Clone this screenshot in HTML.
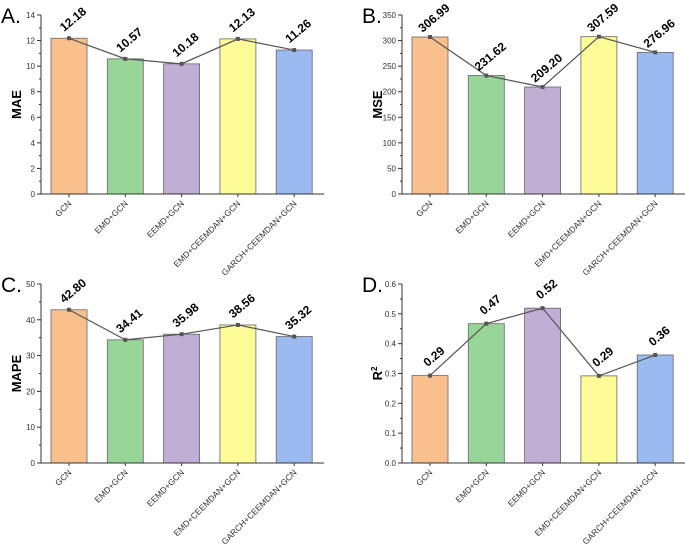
<!DOCTYPE html>
<html><head><meta charset="utf-8">
<style>
html,body{margin:0;padding:0;background:#fff;}
svg{display:block;font-family:"Liberation Sans",sans-serif;}
</style></head>
<body>
<svg id="chart" width="685" height="545" viewBox="0 0 685 545"></svg>
<script>
const categories=["GCN","EMD+GCN","EEMD+GCN","EMD+CEEMDAN+GCN","GARCH+CEEMDAN+GCN"];
const maeValues=[12.18,10.57,10.18,12.13,11.26];
const mseValues=[306.99,231.62,209.20,307.59,276.96];
const mapeValues=[42.80,34.41,35.98,38.56,35.32];
const r2Values=[0.293,0.467,0.519,0.292,0.362];
const maeLabels=["12.18","10.57","10.18","12.13","11.26"];
const mseLabels=["306.99","231.62","209.20","307.59","276.96"];
const mapeLabels=["42.80","34.41","35.98","38.56","35.32"];
const r2Labels=["0.29","0.47","0.52","0.29","0.36"];
const maeTicks=[0,2,4,6,8,10,12,14];
const mseTicks=[0,50,100,150,200,250,300,350];
const mapeTicks=[0,10,20,30,40,50];
const r2Ticks=["0.0","0.1","0.2","0.3","0.4","0.5","0.6"];
const colors=["#f9c08e","#98d598","#c0aed4","#fdfc98","#9bbaf0"];
const NS="http://www.w3.org/2000/svg";
const svg=document.getElementById('chart');
function mk(tag,attrs,parent){const e=document.createElementNS(NS,tag);for(const k in attrs)e.setAttribute(k,attrs[k]);(parent||svg).appendChild(e);return e;}

function panel(key,letter,title,ox,oy,vals,labels,ticks,ymax){
  const g=mk('g',{});
  
  
  const x0=ox,top=oy,bot=oy+179,right=ox+283;
  const y=v=>bot-(v/ymax)*(bot-top);
  const xc=i=>x0+28+i*56.3;
  const lt=mk('text',{x:ox-40,y:oy+8,'font-size':21,fill:'#000'},g);lt.textContent=letter;
  
  
  vals.forEach((v,i)=>{
    const r=mk('rect',{x:xc(i)-18,y:y(v),width:36,height:bot-y(v),fill:colors[i],stroke:'#666','stroke-width':0.8},g);
    
    
  });
  const ax=mk('path',{d:`M${x0} ${top}V${bot}H${right}`,stroke:'#333','stroke-width':1,fill:'none'},g);
  
  
  ticks.forEach((t,i)=>{
    const tv=parseFloat(t);const ty=y(tv);
    mk('line',{x1:x0-4,x2:x0,y1:ty,y2:ty,stroke:'#333','stroke-width':1},g);
    if(i<ticks.length-1){const my=y(tv+(parseFloat(ticks[1])-parseFloat(ticks[0]))/2);mk('line',{x1:x0-2,x2:x0,y1:my,y2:my,stroke:'#333','stroke-width':1},g);}
    const tl=mk('text',{x:x0-6,y:ty+3,'font-size':8,'text-anchor':'end',fill:'#333'},g);tl.textContent=t;
    
    
  });
  const ty0=(top+bot)/2;
  const yg=mk('g',{transform:`translate(${ox-20},${ty0}) rotate(-90)`},g);
  const yt=mk('text',{x:0,y:0,'font-size':13,'font-weight':'bold','text-anchor':'middle'},yg);
  if(title==='R2'){yt.innerHTML='R<tspan font-size="8" dy="-5">2</tspan>';}else yt.textContent=title;
  
  
  categories.forEach((c,i)=>{
    mk('line',{x1:xc(i),x2:xc(i),y1:bot,y2:bot+3,stroke:'#333'},g);
    const cg=mk('g',{transform:`translate(${xc(i)+3},${bot+10}) rotate(-45)`},g);
    const t=mk('text',{x:0,y:0,'font-size':8.5,'text-anchor':'end',fill:'#333'},cg);
    t.textContent=c;
    
    
  });
  const pts=vals.map((v,i)=>xc(i)+','+y(v)).join(' ');
  const pl=mk('polyline',{points:pts,fill:'none',stroke:'#555','stroke-width':1.2},g);
  
  
  vals.forEach((v,i)=>{
    const m=mk('rect',{x:xc(i)-2,y:y(v)-2,width:4,height:4,fill:'#555'},g);
    
    
    const vg=mk('g',{transform:`translate(${xc(i)+4},${y(v)-19}) rotate(-40)`},g);
    const vl=mk('text',{x:0,y:4,'font-size':12,'font-weight':'bold','text-anchor':'middle'},vg);
    vl.textContent=labels[i];
    
    
  });
}
panel('mae','A.','MAE',41,15,maeValues,maeLabels,maeTicks.map(String),14);
panel('mse','B.','MSE',402,15,mseValues,mseLabels,mseTicks.map(String),350);
panel('mape','C.','MAPE',41,284,mapeValues,mapeLabels,mapeTicks.map(String),50);
panel('r2','D.','R2',402,284,r2Values,r2Labels,r2Ticks,0.6);
</script>
</body></html>
